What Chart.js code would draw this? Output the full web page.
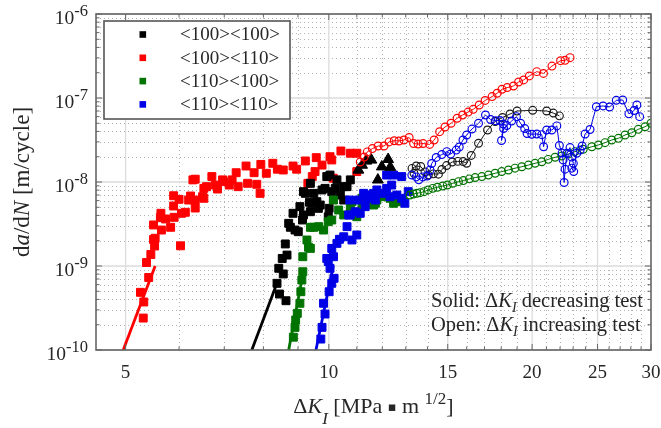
<!DOCTYPE html>
<html>
<head>
<meta charset="utf-8">
<script src="https://cdn.jsdelivr.net/npm/chart.js@4.4.1/dist/chart.umd.min.js"></script>
<style>
  html, body { margin: 0; padding: 0; background: #fff; }
  canvas { display: block; }
</style>
</head>
<body>
<canvas id="c" width="661" height="428"></canvas>
<script>
// Ejes / ticks
const xMin = 4.52, xMax = 30;
const xLabels = [5, 10, 15, 20, 25, 30];
const xGrid = [5, 10, 15, 20, 25];
const xMinor = [6, 7, 8, 9, 11, 12, 13, 14, 16, 17, 18, 19, 21, 22, 23, 24, 26, 27, 28, 29];
const yDecades = [-10, -9, -8, -7, -6];
const yMinorMant = [2, 3, 4, 5, 6, 7, 8, 9];

// Series: [dK, da/dN]
const redSolid = [[5.31,2.4e-10],[5.32,3.73e-10],[5.26,4.86e-10],[5.41,7.3e-10],[5.37,1.1e-9],[5.45,1.37e-9],[5.52,1.73e-9],[5.5,2.07e-9],[5.53,2.14e-9],[5.65,2.68e-9],[5.5,3.08e-9],[5.63,3.76e-9],[5.73,3.63e-9],[5.83,2.89e-9],[6.03,1.74e-9],[5.9,3.8e-9],[6.05,4.24e-9],[5.64,4.24e-9],[5.89,5.18e-9],[5.89,6.86e-9],[6.0,6.22e-9],[6.13,4.36e-9],[6.24,6.81e-9],[6.34,6.1e-9],[6.34,4.9e-9],[6.2,6.1e-9],[6.5,6.68e-9],[6.53,6.4e-9],[6.53,8.4e-9],[6.59,8.8e-9],[6.34,1.08e-8],[6.29,1.06e-8],[6.71,1.16e-8],[6.79,9.2e-9],[6.84,8.25e-9],[6.96,1.06e-8],[6.98,1.01e-8],[7.12,9.2e-9],[7.19,1.06e-8],[7.29,1.29e-8],[7.34,8.8e-9],[7.54,1.55e-8],[7.58,9.65e-9],[7.75,1.29e-8],[7.82,9.39e-9],[7.91,7.33e-9],[7.93,1.62e-8],[8.08,1.27e-8],[8.26,1.67e-8],[8.39,1.42e-8],[8.56,1.39e-8],[8.85,1.55e-8],[8.96,1.42e-8],[9.23,1.78e-8],[9.31,9.65e-9],[9.45,1.16e-8],[9.54,1.33e-8],[9.58,1.95e-8],[9.77,1.59e-8],[10.04,2.0e-8],[10.1,1.83e-8],[10.42,2.34e-8],[10.15,1.11e-8],[10.76,2.2e-8],[11.0,2.2e-8],[11.0,1.33e-8]];
const blackSolid = [[8.38,6.22e-10],[8.45,4.64e-10],[8.64,3.86e-10],[8.56,8.04e-10],[8.43,9.39e-10],[8.53,1.23e-9],[8.67,1.35e-9],[8.62,1.83e-9],[8.77,2.89e-9],[8.91,2.68e-9],[9.01,2.56e-9],[8.72,3.22e-9],[8.85,4.24e-9],[9.17,4.05e-9],[9.14,3.53e-9],[9.39,4.43e-9],[9.6,5.83e-9],[9.36,5.74e-9],[9.17,7.67e-9],[9.5,7.33e-9],[9.87,8.4e-9],[9.71,5.32e-9],[10.01,4.86e-9],[10.1,7.67e-9],[10.4,7.0e-9],[10.04,1.21e-8],[10.52,8.8e-9],[9.44,5.58e-9],[9.65,4.86e-9],[9.23,7.33e-9],[9.39,9.65e-9],[9.77,8.04e-9],[9.93,1.16e-8],[10.22,8.4e-9],[10.28,1.06e-8],[10.52,6.1e-9],[10.64,8.8e-9],[10.76,1.06e-8],[9.98,3.86e-9],[9.06,5.09e-9]];
const blackTri = [[11.06,1.39e-8],[11.2,1.59e-8],[11.36,1.78e-8],[11.56,1.83e-8],[11.82,1.06e-8],[11.98,1.52e-8],[12.24,1.86e-8],[12.33,1.5e-8]];
const greenSolid = [[8.86,1.42e-10],[8.91,1.86e-10],[8.93,2.28e-10],[8.98,2.73e-10],[9.06,3.6e-10],[9.09,4.94e-10],[9.12,6.81e-10],[9.15,8.55e-10],[9.15,1.29e-9],[9.33,1.67e-9],[9.39,1.62e-9],[9.28,2.04e-9],[9.39,2.89e-9],[9.5,2.89e-9],[9.66,2.94e-9],[9.82,2.68e-9],[9.98,3.37e-9],[10.1,3.53e-9],[10.34,4.64e-9],[10.52,4.05e-9],[10.76,5.09e-9],[10.82,5.83e-9],[10.78,4.43e-9],[11.0,3.86e-9],[11.2,5.09e-9],[11.2,6.4e-9],[11.45,5.58e-9],[11.65,5.32e-9],[11.72,5.58e-9],[11.78,6.1e-9],[11.97,6.68e-9],[12.11,7.0e-9],[12.32,6.4e-9],[12.47,5.58e-9],[12.61,5.83e-9],[12.75,6.1e-9],[12.89,5.83e-9],[10.16,6.1e-9]];
const blueSolid = [[9.73,1.35e-10],[9.77,1.86e-10],[9.87,2.68e-10],[9.82,3.6e-10],[10.01,4.94e-10],[10.1,6.22e-10],[10.18,7.14e-10],[10.04,9.39e-10],[9.98,1.13e-9],[9.93,1.23e-9],[10.16,1.29e-9],[10.1,1.62e-9],[10.28,1.86e-9],[10.37,2.08e-9],[10.52,2.23e-9],[10.64,2.94e-9],[10.82,2.04e-9],[11.0,2.34e-9],[10.7,4.05e-9],[10.76,4.05e-9],[10.94,4.43e-9],[11.13,4.24e-9],[11.32,5.09e-9],[11.39,6.4e-9],[11.58,7.0e-9],[11.78,8.04e-9],[11.72,6.1e-9],[11.97,7.33e-9],[12.18,8.4e-9],[12.32,6.68e-9],[12.61,7.0e-9],[12.82,6.4e-9],[12.96,5.58e-9],[12.18,1.21e-8],[12.47,1.21e-8],[12.82,1.16e-8],[10.74,6.1e-9],[11.06,6.1e-9],[11.26,7.33e-9],[11.65,7.33e-9],[12.39,9.2e-9],[13.11,7.67e-9]];

// Rectas de ajuste (extremos)
const redFit = [[4.96,1e-10],[5.53,1e-9]];
const blackFit = [[7.69,1e-10],[8.34,5.68e-10]];
const greenFit = [[8.72,1e-10],[9.16,8.27e-10]];
const blueFit = [[9.57,1e-10],[10.15,1e-9]];

// Ensayos con dK creciente (abiertos)
const redOpen = [[11.13,1.73e-8],[11.28,1.98e-8],[11.4,2.28e-8],[11.6,2.5e-8],[11.83,2.68e-8],[12.07,2.68e-8],[12.28,3.0e-8],[12.5,3.1e-8],[12.7,3.08e-8],[12.92,3.16e-8],[13.15,3.39e-8],[13.35,2.87e-8],[13.56,2.83e-8],[13.79,2.87e-8],[14.1,2.8e-8],[14.32,3.16e-8],[14.59,3.97e-8],[14.86,4.52e-8],[15.17,5.0e-8],[15.49,5.74e-8],[15.78,6.27e-8],[16.08,6.8e-8],[16.36,7.33e-8],[16.7,8.25e-8],[17.04,9.35e-8],[17.45,1.04e-7],[17.75,1.14e-7],[18.05,1.27e-7],[18.37,1.33e-7],[18.77,1.39e-7],[19.1,1.55e-7],[19.43,1.64e-7],[19.81,1.83e-7],[20.32,2.06e-7],[20.79,1.96e-7],[21.4,2.4e-7],[22.04,2.78e-7],[22.38,2.81e-7],[22.76,3.02e-7]];
const blackOpen = [[13.37,1.27e-8],[13.28,1.45e-8],[13.47,1.55e-8],[13.68,1.53e-8],[13.88,1.32e-8],[14.04,1.21e-8],[14.28,1.25e-8],[14.53,1.24e-8],[14.7,1.41e-8],[14.94,1.57e-8],[15.23,1.73e-8],[15.52,1.76e-8],[15.81,1.75e-8],[16.0,1.67e-8],[16.25,2.07e-8],[16.66,2.89e-8],[17.18,4.16e-8],[17.63,5.25e-8],[18.08,5.86e-8],[18.55,6.45e-8],[19.0,7.0e-8],[20.04,7.14e-8],[21.02,7.0e-8],[21.5,6.62e-8],[21.95,6.13e-8]];
const greenOpen = [[13.19,7.0e-9],[13.34,7.19e-9],[13.5,7.33e-9],[13.65,7.46e-9],[13.84,7.67e-9],[14.03,8.04e-9],[14.25,8.4e-9],[14.48,8.66e-9],[14.75,8.96e-9],[14.98,9.2e-9],[15.26,9.65e-9],[15.56,1.01e-8],[15.82,1.04e-8],[16.15,1.09e-8],[16.47,1.13e-8],[16.85,1.16e-8],[17.23,1.21e-8],[17.63,1.27e-8],[18.03,1.33e-8],[18.45,1.39e-8],[18.87,1.46e-8],[19.31,1.52e-8],[19.75,1.59e-8],[20.2,1.67e-8],[20.67,1.74e-8],[21.13,1.86e-8],[21.63,1.97e-8],[22.13,2.04e-8],[22.63,2.15e-8],[23.15,2.3e-8],[23.81,2.45e-8],[24.52,2.63e-8],[25.07,2.76e-8],[25.65,2.94e-8],[26.24,3.16e-8],[26.84,3.31e-8],[27.46,3.63e-8],[28.1,3.86e-8],[28.73,4.24e-8],[29.4,4.55e-8],[30.0,5.0e-8]];
const blueOpen = [[13.27,1.21e-8],[13.47,1.15e-8],[13.59,1.06e-8],[13.78,1.15e-8],[13.98,1.18e-8],[14.12,1.39e-8],[14.2,1.66e-8],[14.42,1.96e-8],[14.7,2.12e-8],[14.95,2.3e-8],[15.15,2.15e-8],[15.44,2.4e-8],[15.6,2.61e-8],[15.8,3.16e-8],[16.0,3.63e-8],[16.29,4.27e-8],[16.66,5.0e-8],[17.06,6.27e-8],[17.36,5.55e-8],[17.66,5.37e-8],[17.93,5.4e-8],[18.13,4.9e-8],[18.02,3.12e-8],[18.15,4.33e-8],[18.35,4.7e-8],[18.65,5.32e-8],[18.96,6.0e-8],[19.23,5.0e-8],[19.5,4.33e-8],[19.66,3.78e-8],[19.98,3.7e-8],[20.32,3.73e-8],[20.67,3.66e-8],[20.8,2.63e-8],[21.02,4.16e-8],[21.39,4.16e-8],[21.76,4.65e-8],[21.95,2.72e-8],[22.15,2.21e-8],[22.23,1.83e-8],[22.31,9.86e-9],[22.38,1.42e-8],[22.53,2.2e-8],[22.76,2.57e-8],[22.89,1.98e-8],[23.02,1.67e-8],[22.9,1.46e-8],[23.05,1.33e-8],[23.29,2.2e-8],[23.56,2.4e-8],[23.72,2.68e-8],[23.96,3.73e-8],[24.37,4.22e-8],[24.9,7.87e-8],[25.48,8.04e-8],[26.05,7.81e-8],[26.65,9.39e-8],[27.24,9.47e-8],[27.82,6.48e-8],[28.32,7.1e-8],[28.59,8.25e-8],[28.86,6.0e-8]];

const legendNames = ["<100><100>", "<100><110>", "<110><100>", "<110><110>"];
const legendColors = ["#000000", "#ff0000", "#007300", "#0000e6"];
const [cBlack, cRed, cGreen, cBlue] = legendColors;

const SERIF = '"Liberation Serif", "Times New Roman", serif';
const TXT = "#262626";
const AXC = "#666666";

const pts = arr => arr.map(([x, y]) => ({ x, y }));
const datasets = [];
function add(d) { d.order = 100 - datasets.length; datasets.push(d); }

function solid(arr, c, style = "rect", r = 5.6) {
  add({ data: pts(arr), pointStyle: style, pointRadius: r, backgroundColor: c,
        borderColor: c, pointBorderWidth: 1, showLine: false });
}
function open(arr, c) {
  add({ data: pts(arr), pointStyle: "circle", pointRadius: 3.9, backgroundColor: "rgba(0,0,0,0)",
        pointBackgroundColor: "rgba(0,0,0,0)", borderColor: c, pointBorderColor: c,
        borderWidth: 1, pointBorderWidth: 1.15, showLine: true });
}
function fit(arr, c) {
  add({ data: pts(arr), borderColor: c, borderWidth: 2.8, pointRadius: 0, showLine: true });
}

solid(redSolid, cRed);
solid(blackSolid, cBlack);
solid(greenSolid, cGreen);
solid(blueSolid, cBlue);
solid(blackTri, cBlack, "triangle", 6.3);
fit(redFit, cRed); fit(blackFit, cBlack); fit(greenFit, cGreen); fit(blueFit, cBlue);
open(redOpen, cRed);
open(greenOpen, cGreen);
open(blackOpen, "#1a1a1a");
open(blueOpen, cBlue);

// Texto con partes (cursiva, sub/superindices)
function drawRuns(ctx, parts, x, y) {
  parts.forEach(([t, f, dy]) => { ctx.font = f; ctx.fillText(t, x, y + (dy || 0)); x += ctx.measureText(t).width; });
  return x;
}
function runsWidth(ctx, parts) {
  return parts.reduce((w, [t, f]) => { ctx.font = f; return w + ctx.measureText(t).width; }, 0);
}
const reg = s => `${s}px ${SERIF}`;
const ita = s => `italic ${s}px ${SERIF}`;

const frame = {
  id: "frame",
  beforeDatasetsDraw(chart) {
    const { ctx, chartArea: a, scales: { x, y } } = chart;
    const yMinor = [];
    yDecades.slice(0, -1).forEach(e => yMinorMant.forEach(m => yMinor.push(m * Math.pow(10, e))));
    ctx.save();
    ctx.lineWidth = 1;
    ctx.strokeStyle = "#b2b2b2";
    ctx.setLineDash([1, 3]);
    ctx.beginPath();
    xMinor.forEach(v => { const p = Math.round(x.getPixelForValue(v)) + 0.5; ctx.moveTo(p, a.top); ctx.lineTo(p, a.bottom); });
    yMinor.forEach(v => { const p = Math.round(y.getPixelForValue(v)) + 0.5; ctx.moveTo(a.left, p); ctx.lineTo(a.right, p); });
    ctx.stroke();
    ctx.setLineDash([]);
    ctx.strokeStyle = "#dcdcdc";
    ctx.lineWidth = 1.3;
    ctx.beginPath();
    xGrid.forEach(v => { const p = x.getPixelForValue(v); ctx.moveTo(p, a.top); ctx.lineTo(p, a.bottom); });
    yDecades.forEach(e => { const p = y.getPixelForValue(Math.pow(10, e)); ctx.moveTo(a.left, p); ctx.lineTo(a.right, p); });
    ctx.stroke();
    ctx.restore();
  },
  afterDraw(chart) {
    const { ctx, chartArea: a, scales: { x, y } } = chart;
    ctx.save();
    // ticks
    ctx.strokeStyle = AXC;
    ctx.lineWidth = 1;
    ctx.beginPath();
    const tx = (v, len) => { const p = x.getPixelForValue(v); ctx.moveTo(p, a.bottom); ctx.lineTo(p, a.bottom - len); ctx.moveTo(p, a.top); ctx.lineTo(p, a.top + len); };
    const ty = (v, len) => { const p = y.getPixelForValue(v); ctx.moveTo(a.left, p); ctx.lineTo(a.left + len, p); ctx.moveTo(a.right, p); ctx.lineTo(a.right - len, p); };
    xLabels.forEach(v => tx(v, 6));
    xMinor.forEach(v => tx(v, 3.5));
    yDecades.forEach(e => ty(Math.pow(10, e), 6));
    yDecades.slice(0, -1).forEach(e => yMinorMant.forEach(m => ty(m * Math.pow(10, e), 3.5)));
    ctx.stroke();
    // marco
    ctx.lineWidth = 1.6;
    ctx.strokeRect(a.left, a.top, a.right - a.left, a.bottom - a.top);

    ctx.fillStyle = TXT;
    // etiquetas x
    ctx.font = reg(19);
    ctx.textAlign = "center";
    ctx.textBaseline = "middle";
    xLabels.forEach(v => ctx.fillText(String(v), x.getPixelForValue(v), a.bottom + 23));
    // etiquetas y (10^n)
    ctx.textAlign = "left";
    ctx.textBaseline = "alphabetic";
    yDecades.forEach(e => {
      const p = y.getPixelForValue(Math.pow(10, e));
      const parts = [["10", reg(19.5), 0], [String(e), reg(16.5), -8]];
      const w = runsWidth(ctx, parts);
      drawRuns(ctx, parts, 88 - w, p + 10);
    });
    // titulo x
    const xt = [["Δ", reg(22)], ["K", ita(22)], ["I", ita(17), 11], [" [MPa ", reg(22)],
                ["▪", '13px "DejaVu Sans"', -2], [" m ", reg(22)], ["1/2", reg(17), -9], ["]", reg(22)]];
    const xc = (a.left + a.right) / 2;
    drawRuns(ctx, xt, xc - runsWidth(ctx, xt) / 2, 413);
    // titulo y
    const yt = [["d", reg(23)], ["a", ita(23)], ["/d", reg(23)], ["N", ita(23)], [" [m/cycle]", reg(23)]];
    ctx.save();
    ctx.translate(29, (a.top + a.bottom) / 2);
    ctx.rotate(-Math.PI / 2);
    drawRuns(ctx, yt, -runsWidth(ctx, yt) / 2, 0);
    ctx.restore();
    // nota
    const l1 = [["Solid: ", reg(20.5)], ["Δ", reg(20.5)], ["K", ita(20.5)], ["I", ita(14), 5], [" decreasing test", reg(20.5)]];
    const l2 = [["Open: ", reg(20.5)], ["Δ", reg(20.5)], ["K", ita(20.5)], ["I", ita(14), 5], [" increasing test", reg(20.5)]];
    drawRuns(ctx, l1, 431, 307);
    drawRuns(ctx, l2, 431, 331);
    // leyenda
    const lx = 104, ly = 21, lw = 186, lh = 98;
    ctx.fillStyle = "#fff";
    ctx.fillRect(lx, ly, lw, lh);
    ctx.strokeStyle = "#555";
    ctx.lineWidth = 1.6;
    ctx.strokeRect(lx, ly, lw, lh);
    ctx.textBaseline = "middle";
    ctx.font = reg(19);
    legendNames.forEach((name, i) => {
      const cy = 34.5 + i * 23.3;
      ctx.fillStyle = legendColors[i];
      ctx.fillRect(139.5, cy - 3.3, 6.6, 6.6);
      ctx.fillStyle = TXT;
      ctx.fillText(name, 180, cy + 1);
    });
    ctx.restore();
  }
};

new Chart(document.getElementById("c"), {
  type: "scatter",
  data: { datasets },
  options: {
    responsive: false,
    animation: false,
    devicePixelRatio: 1,
    events: [],
    layout: { padding: { left: 96, top: 14, right: 10, bottom: 78 } },
    scales: {
      x: { type: "logarithmic", min: xMin, max: xMax, display: false },
      y: { type: "logarithmic", min: 1e-10, max: 1e-6, display: false }
    },
    plugins: { legend: { display: false }, tooltip: { enabled: false } }
  },
  plugins: [frame]
});
</script>
</body>
</html>
